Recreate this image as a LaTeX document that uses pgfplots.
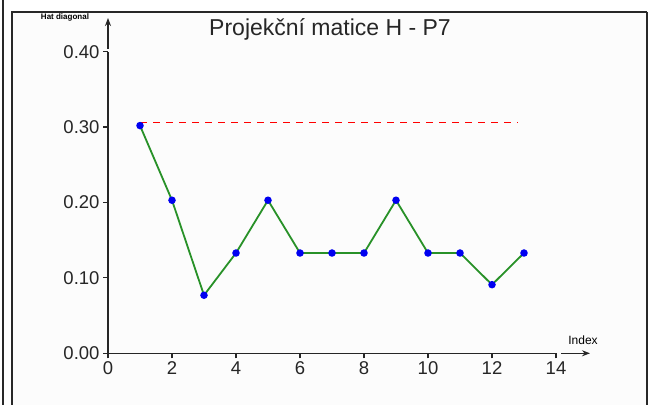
\documentclass[border=0pt]{standalone}
\usepackage{pgfplots}
\pgfplotsset{compat=1.18}
\usepackage{fontspec}
\setmainfont{Liberation Sans}
\usetikzlibrary{arrows.meta}
\definecolor{linegreen}{RGB}{40,145,40}
\definecolor{markblue}{RGB}{0,0,240}
\definecolor{frameg}{RGB}{40,40,40}
\begin{document}
\begin{tikzpicture}
\useasboundingbox (0,0) rectangle (656bp,405bp);
\fill[white] (0,0) rectangle (656bp,405bp);
% window frame
\draw[line width=1.2bp, frameg] (3bp,0) -- (3bp,405bp);
\fill[black!1] (12bp,0) rectangle (647bp,393bp);
\draw[line width=1.2bp, frameg] (12bp,0) -- (12bp,393bp) -- (647bp,393bp);
\draw[line width=2bp, frameg] (647bp,393bp) -- (647bp,0);
\begin{axis}[
  at={(108bp,51.7bp)}, anchor=south west,
  scale only axis, width=448bp, height=301.6bp,
  xmin=0, xmax=14, ymin=0, ymax=0.4,
  axis lines=left,
  axis line style={-, line width=1.5bp, black!85},
  xtick={0,2,...,14},
  ytick={0,0.1,0.2,0.3,0.4},
  tick align=outside,
  major tick length=5bp,
  tick style={line width=1.2bp, black!85},
  ticklabel style={font=\fontsize{18.5bp}{20bp}\selectfont, text=black!85},
  /pgf/number format/assume math mode=true,
  y tick label style={/pgf/number format/.cd, fixed, fixed zerofill, precision=2},
  clip=false,
]
% reference level
\addplot[red, line width=1.8bp, dash pattern=on 7bp off 6bp] coordinates {(1,0.306) (12.8,0.306)};
% diagonal values
\addplot[linegreen, line width=1.8bp, mark=*, mark size=2.8bp,
  mark options={draw=markblue, fill=markblue}] coordinates {
  (1,0.302) (2,0.203) (3,0.077) (4,0.133) (5,0.203) (6,0.133) (7,0.133)
  (8,0.133) (9,0.203) (10,0.133) (11,0.133) (12,0.091) (13,0.133)};
\end{axis}
% axis arrows
\draw[-{Stealth[length=8bp,width=6bp]}, line width=1.5bp, black!85] (108bp,356bp) -- (108bp,387bp);
\draw[-{Stealth[length=8bp,width=6bp]}, line width=1.5bp, black!85] (561bp,51.7bp) -- (590bp,51.7bp);
% labels
\node[font=\fontsize{23bp}{25bp}\selectfont, text=black!85] at (330bp,376bp) {Projekční matice H - P7};
\node[font=\bfseries\fontsize{8bp}{9bp}\selectfont] at (65bp,388bp) {Hat diagonal};
\node[font=\fontsize{12bp}{13bp}\selectfont] at (583bp,65bp) {Index};
\end{tikzpicture}
\end{document}
